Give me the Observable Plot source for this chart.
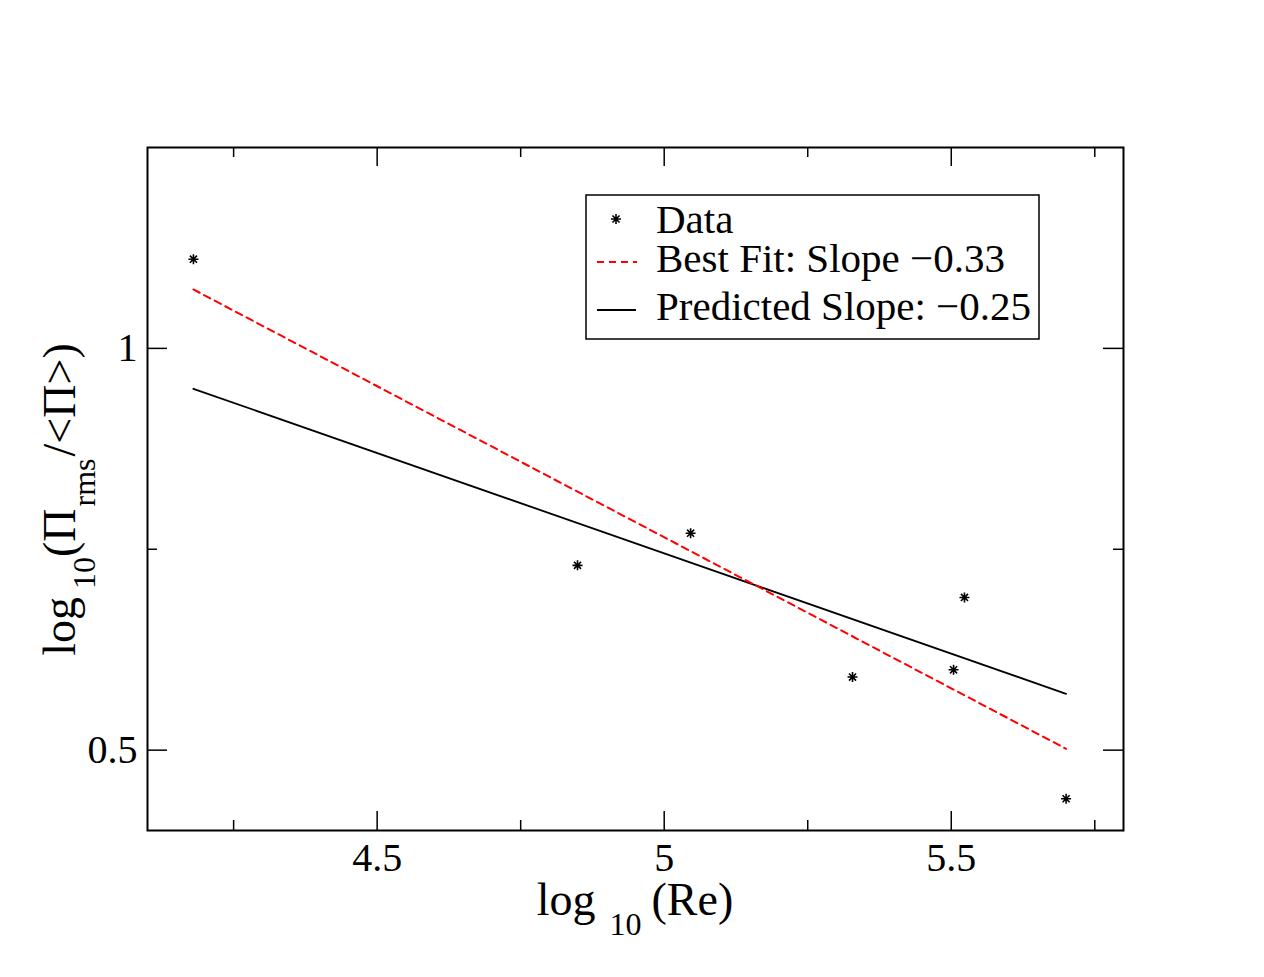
<!DOCTYPE html>
<html><head><meta charset="utf-8">
<script src="https://cdn.jsdelivr.net/npm/d3@7"></script>
<script src="https://cdn.jsdelivr.net/npm/@observablehq/plot@0.6"></script>
<style>html,body{margin:0;padding:0;background:#fff;}</style>
</head><body><div id="chart"></div>
<script>
// ---- data ----
const logRe = [4.180, 4.849, 5.046, 5.328, 5.504, 5.523, 5.700];
const logPi = [1.111, 0.730, 0.770, 0.591, 0.600, 0.690, 0.4395];
const fitLogRe = [4.180, 5.700];
const bestFitLogPi = [1.0733, 0.5017];
const predictedLogPi = [0.9497, 0.5701];
const xMajorTicks = [4.5, 5, 5.5];
const xMinorTicks = [4.25, 4.75, 5.25, 5.75];
const yMajorTicks = [0.5, 1];
const yMinorTicks = [0.75];
const legendLabels = ["Data", "Best Fit: Slope \u22120.33", "Predicted Slope: \u22120.25"];

const points = logRe.map((x, i) => ({x, y: logPi[i]}));
const bestFit = fitLogRe.map((x, i) => ({x, y: bestFitLogPi[i]}));
const predicted = fitLogRe.map((x, i) => ({x, y: predictedLogPi[i]}));

const W = 1264, H = 977;
const mL = 147, mR = 141, mT = 147, mB = 147;
const innerW = W - mL - mR, innerH = H - mT - mB;
const FONT = "'Liberation Serif', 'Times New Roman', serif";

const asterisk8 = {
  draw(ctx, size) {
    const r = Math.sqrt(size / Math.PI);
    const d = r * Math.SQRT1_2;
    ctx.moveTo(0, -r); ctx.lineTo(0, r);
    ctx.moveTo(-r, 0); ctx.lineTo(r, 0);
    ctx.moveTo(-d, -d); ctx.lineTo(d, d);
    ctx.moveTo(-d, d); ctx.lineTo(d, -d);
  }
};

const tickStyle = {stroke: "black", strokeWidth: 1.5};
const svg = Plot.plot({
  width: W, height: H,
  marginLeft: mL, marginRight: mR, marginTop: mT, marginBottom: mB,
  x: {domain: [4.1, 5.8]},
  y: {domain: [0.4, 1.25]},
  style: {fontFamily: FONT, fontSize: "40px", color: "black", background: "white", overflow: "visible"},
  marks: [
    Plot.axisX(xMajorTicks, {tickSize: 0, tickPadding: 12, fontSize: 40, tickFormat: d => String(d), label: null}),
    Plot.axisY(yMajorTicks, {tickSize: 0, tickPadding: 10, fontSize: 40, tickFormat: d => String(d), label: null}),
    Plot.tickX(xMajorTicks, {x: d => d, insetTop: innerH - 19, ...tickStyle}),
    Plot.tickX(xMajorTicks, {x: d => d, insetBottom: innerH - 19, ...tickStyle}),
    Plot.tickX(xMinorTicks, {x: d => d, insetTop: innerH - 10, ...tickStyle}),
    Plot.tickX(xMinorTicks, {x: d => d, insetBottom: innerH - 10, ...tickStyle}),
    Plot.tickY(yMajorTicks, {y: d => d, insetRight: innerW - 20, ...tickStyle}),
    Plot.tickY(yMajorTicks, {y: d => d, insetLeft: innerW - 20, ...tickStyle}),
    Plot.tickY(yMinorTicks, {y: d => d, insetRight: innerW - 10, ...tickStyle}),
    Plot.tickY(yMinorTicks, {y: d => d, insetLeft: innerW - 10, ...tickStyle}),
    Plot.line(predicted, {x: "x", y: "y", stroke: "black", strokeWidth: 1.8}),
    Plot.line(bestFit, {x: "x", y: "y", stroke: "#ff0000", strokeWidth: 2, strokeDasharray: "7,5"}),
    Plot.dot(points, {x: "x", y: "y", symbol: asterisk8, r: 5, stroke: "black", strokeWidth: 1.6, fill: "none"}),
    Plot.frame({stroke: "black", strokeWidth: 2})
  ]
});
document.getElementById("chart").appendChild(svg);

const s = d3.select(svg);
const xr = svg.scale("x").range, yr = svg.scale("y").range;
const cx = (xr[0] + xr[1]) / 2, cy = (yr[0] + yr[1]) / 2;

// x axis title
const xt = s.append("text").attr("x", cx).attr("y", H - mB + 85)
  .attr("text-anchor", "middle").attr("font-family", FONT).attr("font-size", 46).attr("fill", "black");
xt.append("tspan").text("log");
xt.append("tspan").attr("dx", 14).attr("dy", 20).attr("font-size", 32).text("10");
xt.append("tspan").attr("dx", 10).attr("dy", -20).text("(Re)");

// y axis title
const yt = s.append("text").attr("transform", `translate(${mL - 72},${cy + 11}) rotate(-90)`)
  .attr("text-anchor", "middle").attr("font-family", FONT).attr("font-size", 46).attr("fill", "black");
yt.append("tspan").text("log");
yt.append("tspan").attr("dx", 8).attr("dy", 20).attr("font-size", 32).text("10");
yt.append("tspan").attr("dy", -20).text("(\u03A0");
yt.append("tspan").attr("dx", 2).attr("dy", 20).attr("font-size", 32).text("rms");
yt.append("tspan").attr("dx", 2).attr("dy", -20).text("/<\u03A0>)");

// legend
const lg = s.append("g").attr("font-family", FONT).attr("font-size", 41).attr("text-anchor", "start");
lg.append("rect").attr("x", 586).attr("y", 195).attr("width", 453).attr("height", 144)
  .attr("fill", "white").attr("stroke", "black").attr("stroke-width", 1.5);
lg.append("path").attr("transform", "translate(616,219)")
  .attr("d", d3.symbol(asterisk8, 25 * Math.PI)())
  .attr("stroke", "black").attr("stroke-width", 1.6).attr("fill", "none");
lg.append("line").attr("x1", 597).attr("x2", 637).attr("y1", 262).attr("y2", 262)
  .attr("stroke", "#ff0000").attr("stroke-width", 2).attr("stroke-dasharray", "7,5");
lg.append("line").attr("x1", 597).attr("x2", 636).attr("y1", 310).attr("y2", 310)
  .attr("stroke", "black").attr("stroke-width", 1.8);
const baselines = [233, 272, 320];
legendLabels.forEach((t, i) => {
  lg.append("text").attr("x", 656).attr("y", baselines[i]).attr("text-anchor", "start")
    .attr("fill", "black").text(t);
});
</script>
</body></html>
